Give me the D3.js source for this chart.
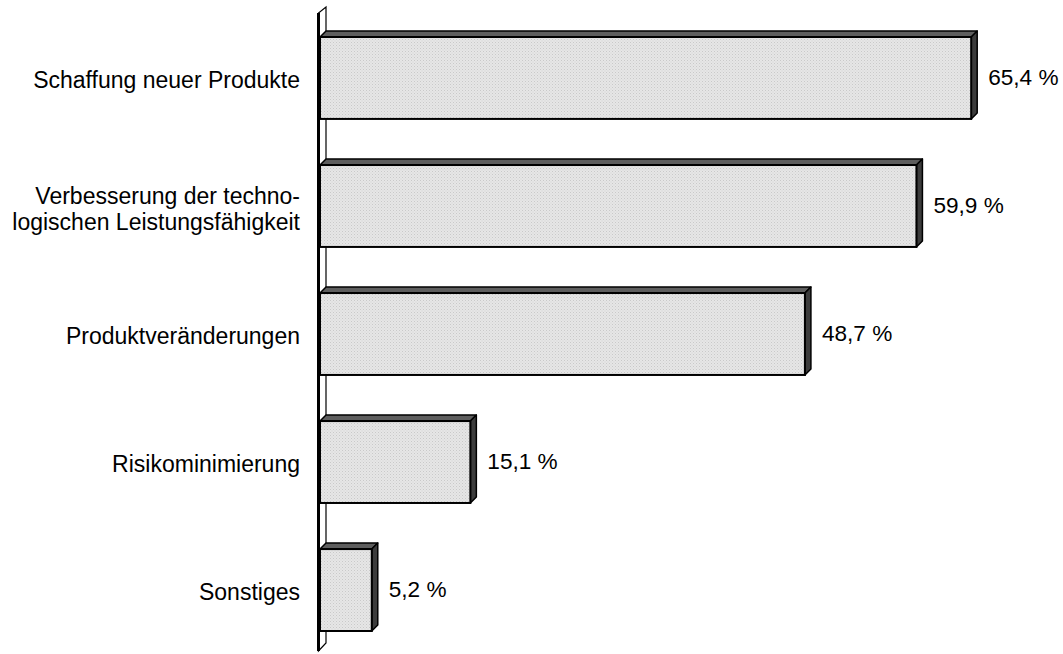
<!DOCTYPE html>
<html><head><meta charset="utf-8">
<script src="https://cdn.jsdelivr.net/npm/d3@7"></script>
<style>
html,body{margin:0;padding:0;background:#fff;}
svg{display:block;font-family:"Liberation Sans",Arial,sans-serif;}
</style></head>
<body>
<svg id="chart" width="1063" height="654"></svg>
<script>
const categories = [
  ["Schaffung neuer Produkte"],
  ["Verbesserung der techno-", "logischen Leistungsfähigkeit"],
  ["Produktveränderungen"],
  ["Risikominimierung"],
  ["Sonstiges"]
];
const values = [65.4, 59.9, 48.7, 15.1, 5.2];
const valueLabels = ["65,4 %", "59,9 %", "48,7 %", "15,1 %", "5,2 %"];

const svg = d3.select("#chart");
const dx = 6, dy = 6;
const keys = categories.map((c, i) => i);

const x = d3.scaleLinear().domain([0, 70]).range([320, 1017]);
const y = d3.scaleBand().domain(keys).range([37, 631]).paddingInner(0.36).paddingOuter(0);

// pattern for front faces
const defs = svg.append("defs");
const pat = defs.append("pattern").attr("id", "dots").attr("width", 3).attr("height", 3)
  .attr("patternUnits", "userSpaceOnUse");
pat.append("rect").attr("width", 3).attr("height", 3).attr("fill", "#e6e6e6");
pat.append("rect").attr("x", 0).attr("y", 0).attr("width", 1).attr("height", 1).attr("fill", "#c9c9c9");
pat.append("rect").attr("x", 1.5).attr("y", 1.5).attr("width", 1).attr("height", 1).attr("fill", "#d2d2d2");

// axis wall
const wallTop = 13, wallBot = 651, wx = 318.5;
svg.append("path")
  .attr("d", `M${wx},${wallBot} L${wx},${wallTop} L${wx + 7.5},${wallTop - 6} L${wx + 7.5},${wallBot - 8} Z`)
  .attr("fill", "#fff").attr("stroke", "#000").attr("stroke-width", 1.2);
svg.append("line").attr("x1", wx).attr("x2", wx).attr("y1", wallTop).attr("y2", wallBot)
  .attr("stroke", "#000").attr("stroke-width", 3);

const g = svg.append("g");
const bars = g.selectAll("g.bar").data(keys).join("g").attr("class", "bar");

// top face
bars.append("path")
  .attr("d", i => {
    const x0 = x(0), x1 = x(values[i]), yt = y(i);
    return `M${x0},${yt} L${x0 + dx},${yt - dy} L${x1 + dx},${yt - dy} L${x1},${yt} Z`;
  })
  .attr("fill", "#5e5e5e").attr("stroke", "#000").attr("stroke-width", 1.5).attr("stroke-linejoin", "round");
// right face
bars.append("path")
  .attr("d", i => {
    const x1 = x(values[i]), yt = y(i), yb = y(i) + y.bandwidth();
    return `M${x1},${yt} L${x1 + dx},${yt - dy} L${x1 + dx},${yb - dy} L${x1},${yb} Z`;
  })
  .attr("fill", "#3c3c3c").attr("stroke", "#000").attr("stroke-width", 1.5).attr("stroke-linejoin", "round");
// front face
bars.append("rect")
  .attr("x", x(0)).attr("y", i => y(i))
  .attr("width", i => x(values[i]) - x(0)).attr("height", y.bandwidth())
  .attr("fill", "url(#dots)").attr("stroke", "#000").attr("stroke-width", 2);

// value labels
bars.append("text")
  .attr("x", i => x(values[i]) + dx + 11)
  .attr("y", i => y(i) + y.bandwidth() / 2 + 7)
  .attr("font-size", 22.6).attr("fill", "#000")
  .text(i => valueLabels[i]);

// category labels
bars.each(function(i) {
  const lines = categories[i];
  const cy = y(i) + y.bandwidth() / 2;
  const t = d3.select(this).append("text")
    .attr("text-anchor", "end").attr("font-size", 23).attr("fill", "#000");
  if (lines.length === 1) {
    t.append("tspan").attr("x", 300).attr("y", cy + 10).text(lines[0]);
  } else {
    t.append("tspan").attr("x", 300).attr("y", cy - 2).text(lines[0]);
    t.append("tspan").attr("x", 300).attr("y", cy + 24).text(lines[1]);
  }
});
</script>
</body></html>
